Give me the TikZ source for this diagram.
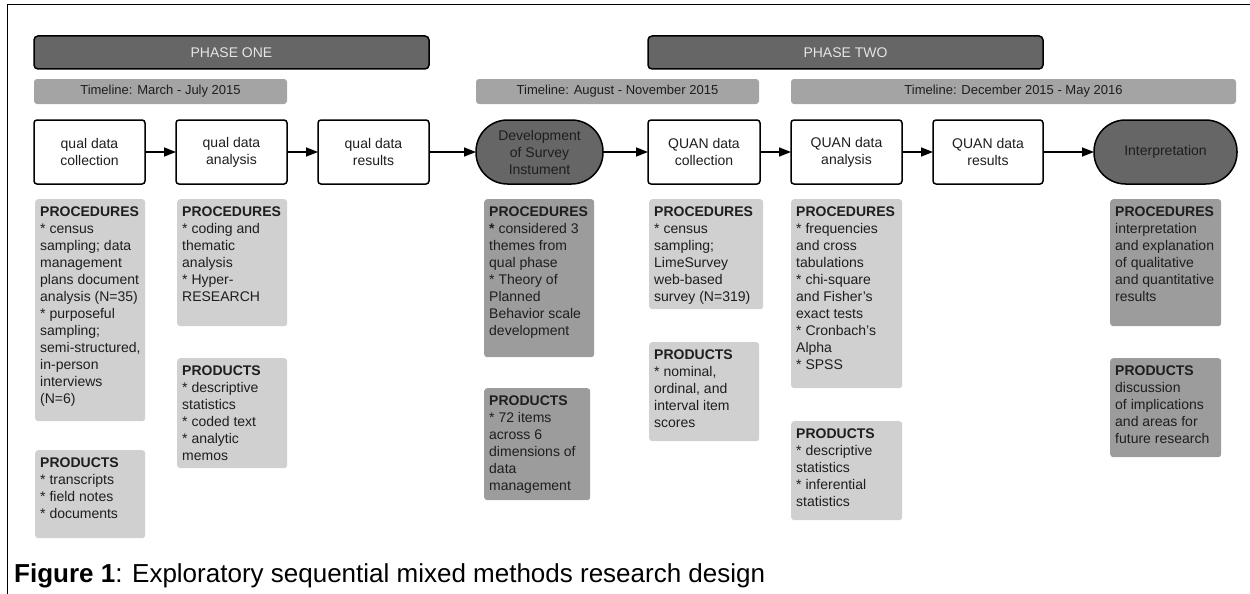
\documentclass[tikz,border=0pt]{standalone}
\usepackage{fontspec}
\setmainfont{Liberation Sans}
\usepackage{tikz,xcolor}
\usetikzlibrary{positioning,arrows.meta}
\definecolor{phasegray}{HTML}{666666}
\definecolor{linegray}{HTML}{A4A4A4}
\definecolor{boxlight}{HTML}{D0D0D0}
\definecolor{boxdark}{HTML}{9C9C9C}
\definecolor{inkgray}{HTML}{1E1E1E}
\newcommand{\infotext}[3]{\parbox[t][#2][t]{#1}{\raggedright\strut #3}}

\begin{document}
\begin{tikzpicture}[
        x=1pt, y=-1pt,
        >={Triangle[length=12pt,width=9pt]},
        phase/.style={draw, line width=1.5pt, rounded corners=4pt, fill=phasegray, text=gray!20, minimum width=395pt, minimum height=33pt, font=\fontsize{14}{17}\selectfont},
        timeline/.style={fill=linegray, rounded corners=3pt, text=inkgray, minimum height=25pt, font=\fontsize{13}{16}\selectfont},
        stage/.style={draw, line width=1.5pt, rounded corners=3pt, fill=white, minimum width=111pt, minimum height=64pt, outer sep=0pt, align=center, text=inkgray, font=\fontsize{14}{17}\selectfont},
        milestone/.style={stage, rounded corners=31.5pt, fill=phasegray},
        infobox/.style={anchor=north west, inner xsep=5pt, inner ysep=5pt, rounded corners=3pt, fill=boxlight, text=inkgray, font=\fontsize{14}{17}\selectfont},
        darkinfo/.style={infobox, fill=boxdark},
        link/.style={->, line width=1.5pt}
    ]
        \useasboundingbox (0,0) rectangle (1250,594);
        % Frame
        \draw[line width=1.5pt] (1250,4.3) -- (7.3,4.3) -- (7.3,594);

        % Phases and timelines
        \node[phase] (phaseone) at (231.5,52.5) {PHASE ONE};
        \node[phase] (phasetwo) at (845.5,52.5) {PHASE TWO};
        \node[timeline, minimum width=253pt] (tlone) at (160.5,91.5) {Timeline: March - July 2015};
        \node[timeline, minimum width=283pt] (tltwo) at (617.5,91.5) {Timeline: August - November 2015};
        \node[timeline, minimum width=445pt] (tlthree) at (1013.5,91.5) {Timeline: December 2015 - May 2016};

        % Define stages
        \node[stage] (qualcoll) at (89.5,152) {qual data\\collection};
        \node[stage, right=31pt of qualcoll] (qualanal) {qual data\\analysis};
        \node[stage, right=31pt of qualanal] (qualres) {qual data\\results};
        \node[milestone, minimum width=127pt, right=47pt of qualres] (survey) {Development\\of Survey\\Instument};
        \node[stage, minimum width=112pt, right=45pt of survey] (quancoll) {QUAN data\\collection};
        \node[stage, right=31pt of quancoll] (quananal) {QUAN data\\analysis};
        \node[stage, minimum width=110pt, right=31pt of quananal] (quanres) {QUAN data\\results};
        \node[milestone, minimum width=143pt, right=51pt of quanres] (interp) {Interpretation};

        % Stage transitions
        \draw[link] (qualcoll) -- (qualanal);
        \draw[link] (qualanal) -- (qualres);
        \draw[link] (qualres) -- (survey);
        \draw[link] (survey) -- (quancoll);
        \draw[link] (quancoll) -- (quananal);
        \draw[link] (quananal) -- (quanres);
        \draw[link] (quanres) -- (interp);

        % qual data collection
        \node[infobox] (proccoll) at (35,199) {\infotext{100pt}{212pt}{\textbf{PROCEDURES}\\{*} census\\sampling; data\\management\\plans document\\analysis (N=35)\\{*} purposeful\\sampling;\\\mbox{semi-structured,}\\in-person\\interviews\\(N=6)}};
        \node[infobox] (prodcoll) at (35,450) {\infotext{100pt}{78pt}{\textbf{PRODUCTS}\\{*} transcripts\\{*} field notes\\{*} documents}};

        % qual data analysis
        \node[infobox] (procanal) at (177,199) {\infotext{100pt}{117pt}{\textbf{PROCEDURES}\\{*} coding and\\thematic\\analysis\\{*} Hyper-\\RESEARCH}};
        \node[infobox] (prodanal) at (177,358) {\infotext{100pt}{100pt}{\textbf{PRODUCTS}\\{*} descriptive\\statistics\\{*} coded text\\{*} analytic\\memos}};

        % Survey instrument
        \node[darkinfo] (procsurvey) at (484,199) {\infotext{100pt}{148pt}{\textbf{PROCEDURES}\\\textbf{*} considered 3\\themes from\\qual phase\\{*} Theory of\\Planned\\Behavior scale\\development}};
        \node[darkinfo] (prodsurvey) at (484,388) {\infotext{96pt}{102pt}{\textbf{PRODUCTS}\\{*} 72 items\\across 6\\dimensions of\\data\\management}};

        % QUAN data collection
        \node[infobox] (procqcoll) at (649,199) {\infotext{104pt}{100pt}{\textbf{PROCEDURES}\\{*} census\\sampling;\\LimeSurvey\\web-based\\survey (N=319)}};
        \node[infobox] (prodqcoll) at (649,342) {\infotext{100pt}{89pt}{\textbf{PRODUCTS}\\{*} nominal,\\ordinal, and\\interval item\\scores}};

        % QUAN data analysis
        \node[infobox] (procqanal) at (791,199) {\infotext{101pt}{179pt}{\textbf{PROCEDURES}\\{*} frequencies\\and cross\\tabulations\\{*} chi-square\\and Fisher's\\exact tests\\{*} Cronbach's\\Alpha\\{*} SPSS}};
        \node[infobox] (prodqanal) at (791,421) {\infotext{101pt}{89pt}{\textbf{PRODUCTS}\\{*} descriptive\\statistics\\{*} inferential\\statistics}};

        % Interpretation
        \node[darkinfo] (procinterp) at (1110,199) {\infotext{101pt}{117pt}{\textbf{PROCEDURES}\\interpretation\\and explanation\\of qualitative\\and quantitative\\results}};
        \node[darkinfo] (prodinterp) at (1110,358) {\infotext{101pt}{89pt}{\textbf{PRODUCTS}\\discussion\\of implications\\and areas for\\future research}};

        % Caption
        \node[anchor=base west, inner sep=0pt, font=\fontsize{26}{30}\selectfont] (caption) at (14,582) {\textbf{Figure 1}: Exploratory sequential mixed methods research design};
    \end{tikzpicture}
\end{document}
